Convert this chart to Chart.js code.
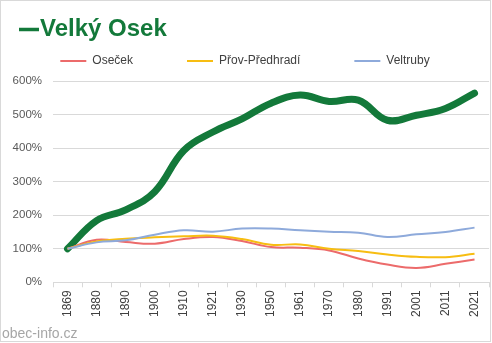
<!DOCTYPE html>
<html><head><meta charset="utf-8">
<style>html,body{margin:0;padding:0;background:#fff;}#wrap{position:absolute;left:0;top:0;width:492px;height:343px;}</style>
<script src="https://cdn.jsdelivr.net/npm/chart.js@4/dist/chart.umd.min.js"></script>
</head><body>
<div id="wrap"><canvas id="c" width="492" height="343"></canvas></div>
<script>
const years = ['1869','1880','1890','1900','1910','1921','1930','1950','1961','1970','1980','1991','2001','2011','2021'];
const velkyOsek = [100,184,216,270,393,448,487,534,558,539,543,483,498,518,564];
const osecek = [100,127,120,115,129,135,123,105,103,95,71,53,43,55,68];
const provPredhradi = [100,122,130,134,137,139,129,112,113,100,93,83,76,75,85];
const veltruby = [100,119,125,142,155,151,160,160,155,151,148,135,143,150,163];
const yTicks = [0,100,200,300,400,500,600];
const mainLabel = 'Velký Osek';
const watermark = 'obec-info.cz';

const GREEN = '#13793a', RED = '#ec6b6b', YELLOW = '#f7bd12', BLUE = '#8eaadb';

// keep the legend compact in height while using wide horizontal spacing
try {
  const LegendEl = Chart.Legend && Chart.Legend._element;
  if (LegendEl) {
    const origFit = LegendEl.prototype.fit;
    LegendEl.prototype.fit = function() {
      origFit.call(this);
      if (this.isHorizontal && this.isHorizontal()) { this.height = 80; }
    };
  }
} catch (e) {}

const framePlugin = {
  id: 'frame',
  beforeDraw(chart) {
    const ctx = chart.ctx;
    ctx.save();
    ctx.fillStyle = '#fff';
    ctx.fillRect(0, 0, chart.width, chart.height);
    ctx.restore();
  },
  afterDraw(chart) {
    const ctx = chart.ctx;
    ctx.save();
    ctx.strokeStyle = '#d9d9d9';
    ctx.lineWidth = 1;
    ctx.strokeRect(0.5, 0.5, chart.width - 2, chart.height - 2);
    ctx.strokeStyle = GREEN;
    ctx.lineWidth = 3.5;
    ctx.beginPath();
    ctx.moveTo(19, 29.5);
    ctx.lineTo(39, 29.5);
    ctx.stroke();
    ctx.fillStyle = GREEN;
    ctx.font = 'bold 24px "Liberation Sans", Arial, sans-serif';
    ctx.textBaseline = 'alphabetic';
    ctx.fillText(mainLabel, 40, 36);
    ctx.fillStyle = '#a6a6a6';
    ctx.font = '14px "Liberation Sans", Arial, sans-serif';
    ctx.fillText(watermark, 2, 338);
    ctx.restore();
  }
};

new Chart(document.getElementById('c'), {
  type: 'line',
  data: {
    labels: years,
    datasets: [
      {label: mainLabel, data: velkyOsek, borderColor: GREEN, backgroundColor: GREEN, borderWidth: 7, order: 4, borderCapStyle: 'round'},
      {label: 'Oseček', data: osecek, borderColor: RED, backgroundColor: RED, borderWidth: 2, order: 3},
      {label: 'Přov-Předhradí', data: provPredhradi, borderColor: YELLOW, backgroundColor: YELLOW, borderWidth: 2, order: 2},
      {label: 'Veltruby', data: veltruby, borderColor: BLUE, backgroundColor: BLUE, borderWidth: 2, order: 1}
    ]
  },
  options: {
    responsive: false,
    animation: false,
    devicePixelRatio: 1,
    layout: {padding: {top: 1, left: 0, right: 2, bottom: 23}},
    elements: {point: {radius: 0, hoverRadius: 0}, line: {tension: 0.4, fill: false}},
    plugins: {
      title: {display: false},
      tooltip: {enabled: false},
      legend: {
        display: true,
        position: 'top',
        labels: {
          font: {family: '"Liberation Sans", Arial, sans-serif', size: 12},
          color: '#404040',
          boxWidth: 26,
          boxHeight: 2,
          padding: 54,
          sort: (a, b) => a.datasetIndex - b.datasetIndex,
          filter: (item) => item.text !== mainLabel,
          generateLabels: (chart) => Chart.defaults.plugins.legend.labels.generateLabels(chart).map(l => Object.assign(l, {lineWidth: 0}))
        }
      }
    },
    scales: {
      x: {
        offset: true,
        grid: {offset: true, drawOnChartArea: false, drawTicks: true, tickLength: 5, color: '#d9d9d9'},
        border: {display: true, color: '#d9d9d9'},
        ticks: {minRotation: 90, maxRotation: 90, color: '#404040', padding: 3, autoSkip: false,
          font: {family: '"Liberation Sans Narrow", "Liberation Sans", Arial, sans-serif', size: 12}}
      },
      y: {
        min: 0, max: 600,
        afterBuildTicks: (scale) => { scale.ticks = yTicks.map(v => ({value: v})); },
        afterFit: (scale) => { scale.width = 53; },
        grid: {color: '#d9d9d9', drawTicks: false},
        border: {display: false},
        ticks: {color: '#595959', padding: 11, callback: v => v + '%',
          font: {family: '"Liberation Sans Narrow", "Liberation Sans", Arial, sans-serif', size: 11.5}}
      }
    }
  },
  plugins: [framePlugin]
});
</script>
</body></html>
